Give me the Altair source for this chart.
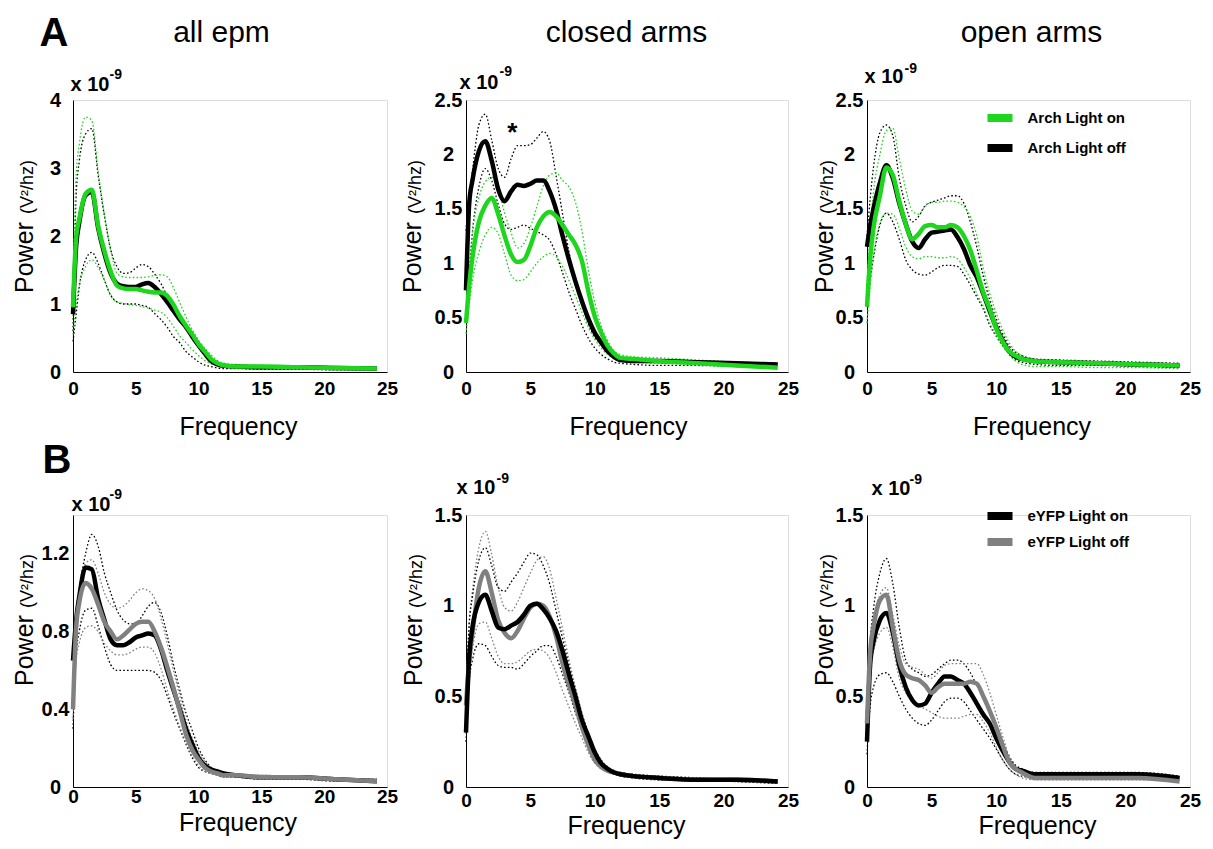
import altair as alt
import pandas as pd

# ---------------- data (x 1e-9 V^2/Hz) ----------------
FREQ = [0, 0.25, 0.5, 1, 1.5, 2, 2.5, 3, 3.5, 4, 4.5, 5, 5.5, 6, 6.5, 7, 7.5, 8,
        8.5, 9, 9.5, 10, 10.5, 11, 11.5, 12, 13, 15, 18, 21, 24.2]

# A1 - all epm (Arch)
A1_ON_MEAN = [0.95, 1.98, 2.25, 2.62, 2.68, 2.15, 1.78, 1.48, 1.27, 1.23, 1.22, 1.22, 1.2, 1.18, 1.17, 1.17, 1.12, 0.99, 0.82, 0.68, 0.55, 0.41, 0.3, 0.19, 0.13, 0.1, 0.08, 0.08, 0.07, 0.06, 0.05]
A1_ON_HI = [1.1, 2.9, 3.35, 3.75, 3.7, 2.95, 2.32, 1.8, 1.45, 1.4, 1.39, 1.39, 1.39, 1.4, 1.42, 1.43, 1.4, 1.24, 1.02, 0.81, 0.62, 0.47, 0.35, 0.25, 0.17, 0.13, 0.11, 0.1, 0.09, 0.08, 0.07]
A1_ON_LO = [0.55, 1.0, 1.28, 1.55, 1.65, 1.54, 1.35, 1.12, 1.03, 1.01, 0.99, 0.98, 0.96, 0.94, 0.91, 0.88, 0.8, 0.67, 0.53, 0.43, 0.33, 0.24, 0.17, 0.12, 0.1, 0.08, 0.06, 0.05, 0.05, 0.04, 0.04]
A1_OFF_MEAN = [0.85, 1.85, 2.2, 2.6, 2.65, 2.12, 1.74, 1.45, 1.3, 1.26, 1.25, 1.25, 1.29, 1.31, 1.25, 1.15, 1.03, 0.9, 0.77, 0.66, 0.52, 0.39, 0.27, 0.16, 0.11, 0.09, 0.08, 0.07, 0.07, 0.06, 0.05]
A1_OFF_HI = [0.6, 2.6, 3.1, 3.5, 3.58, 2.9, 2.3, 1.8, 1.55, 1.45, 1.46, 1.53, 1.58, 1.55, 1.44, 1.3, 1.12, 0.97, 0.82, 0.67, 0.52, 0.41, 0.29, 0.2, 0.15, 0.11, 0.09, 0.09, 0.08, 0.07, 0.06]
A1_OFF_LO = [0.45, 0.85, 1.25, 1.65, 1.76, 1.6, 1.35, 1.13, 1.03, 1.0, 1.0, 1.0, 0.98, 0.95, 0.86, 0.77, 0.66, 0.52, 0.43, 0.3, 0.22, 0.15, 0.1, 0.08, 0.06, 0.05, 0.05, 0.04, 0.04, 0.03, 0.03]

# A2 - closed arms (Arch)
A2_ON_MEAN = [0.45, 0.8, 1.05, 1.38, 1.53, 1.6, 1.45, 1.25, 1.08, 1.01, 1.03, 1.16, 1.33, 1.43, 1.47, 1.43, 1.35, 1.26, 1.17, 1.02, 0.74, 0.51, 0.36, 0.24, 0.17, 0.13, 0.12, 0.1, 0.08, 0.06, 0.04]
A2_ON_HI = [0.55, 0.95, 1.28, 1.6, 1.75, 1.79, 1.68, 1.46, 1.28, 1.14, 1.18, 1.33, 1.52, 1.71, 1.81, 1.83, 1.76, 1.7, 1.56, 1.3, 0.94, 0.64, 0.42, 0.29, 0.19, 0.16, 0.14, 0.13, 0.11, 0.09, 0.07]
A2_ON_LO = [0.35, 0.62, 0.84, 1.1, 1.26, 1.33, 1.27, 1.08, 0.89, 0.84, 0.85, 0.92, 1.0, 1.06, 1.09, 1.06, 0.97, 0.84, 0.7, 0.55, 0.41, 0.3, 0.22, 0.16, 0.12, 0.1, 0.09, 0.08, 0.07, 0.05, 0.04]
A2_OFF_MEAN = [0.75, 1.55, 1.76, 2.03, 2.12, 1.94, 1.68, 1.57, 1.66, 1.72, 1.71, 1.73, 1.76, 1.76, 1.66, 1.49, 1.25, 1.03, 0.83, 0.65, 0.49, 0.36, 0.27, 0.19, 0.14, 0.11, 0.1, 0.1, 0.09, 0.08, 0.07]
A2_OFF_HI = [1.3, 1.6, 1.85, 2.27, 2.37, 2.13, 1.87, 1.79, 1.96, 2.08, 2.08, 2.09, 2.15, 2.21, 2.12, 1.8, 1.45, 1.1, 0.83, 0.62, 0.44, 0.32, 0.26, 0.2, 0.15, 0.12, 0.11, 0.11, 0.1, 0.09, 0.08]
A2_OFF_LO = [0.45, 0.9, 1.28, 1.7, 1.87, 1.76, 1.54, 1.36, 1.31, 1.33, 1.35, 1.32, 1.29, 1.26, 1.21, 1.08, 0.91, 0.73, 0.58, 0.43, 0.31, 0.22, 0.16, 0.12, 0.09, 0.08, 0.07, 0.06, 0.06, 0.05, 0.04]

# A3 - open arms (Arch)
A3_ON_MEAN = [0.6, 1.05, 1.32, 1.62, 1.88, 1.81, 1.57, 1.36, 1.22, 1.27, 1.34, 1.35, 1.33, 1.33, 1.35, 1.33, 1.25, 1.12, 0.93, 0.73, 0.58, 0.4, 0.28, 0.19, 0.15, 0.12, 0.1, 0.09, 0.08, 0.07, 0.06]
A3_ON_HI = [0.8, 1.3, 1.65, 2.0, 2.22, 2.24, 1.96, 1.68, 1.48, 1.45, 1.52, 1.56, 1.56, 1.57, 1.57, 1.56, 1.52, 1.43, 1.25, 0.95, 0.72, 0.54, 0.39, 0.27, 0.19, 0.15, 0.12, 0.1, 0.09, 0.08, 0.07]
A3_ON_LO = [0.45, 0.8, 1.06, 1.37, 1.46, 1.45, 1.32, 1.15, 1.06, 1.04, 1.06, 1.06, 1.05, 1.05, 1.06, 1.04, 0.96, 0.86, 0.72, 0.6, 0.45, 0.34, 0.24, 0.16, 0.1, 0.07, 0.05, 0.05, 0.04, 0.04, 0.03]
A3_OFF_MEAN = [1.15, 1.35, 1.5, 1.74, 1.9, 1.78, 1.55, 1.36, 1.2, 1.14, 1.22, 1.28, 1.29, 1.3, 1.31, 1.24, 1.13, 0.98, 0.87, 0.72, 0.56, 0.41, 0.29, 0.19, 0.14, 0.12, 0.1, 0.09, 0.08, 0.07, 0.06]
A3_OFF_HI = [1.25, 1.6, 1.88, 2.2, 2.27, 2.17, 1.78, 1.53, 1.38, 1.43, 1.53, 1.56, 1.58, 1.6, 1.62, 1.62, 1.55, 1.38, 1.15, 0.88, 0.66, 0.49, 0.35, 0.24, 0.18, 0.15, 0.12, 0.11, 0.1, 0.09, 0.08]
A3_OFF_LO = [0.6, 0.85, 1.05, 1.35, 1.46, 1.38, 1.22, 1.03, 0.94, 0.9, 0.89, 0.92, 0.96, 0.98, 0.98, 0.97, 0.9, 0.8, 0.69, 0.58, 0.43, 0.33, 0.24, 0.17, 0.11, 0.09, 0.07, 0.06, 0.06, 0.05, 0.04]

# B1 - all epm (eYFP)
B1_ON_MEAN = [0.65, 0.86, 0.98, 1.13, 1.12, 0.97, 0.86, 0.76, 0.73, 0.73, 0.745, 0.77, 0.78, 0.79, 0.78, 0.71, 0.6, 0.5, 0.4, 0.3, 0.22, 0.15, 0.11, 0.09, 0.08, 0.07, 0.06, 0.05, 0.05, 0.04, 0.03]
B1_ON_HI = [0.7, 0.9, 1.02, 1.2, 1.3, 1.24, 1.1, 1.0, 0.91, 0.86, 0.84, 0.84, 0.88, 0.93, 0.95, 0.9, 0.78, 0.63, 0.5, 0.38, 0.29, 0.2, 0.14, 0.1, 0.08, 0.07, 0.06, 0.06, 0.05, 0.04, 0.04]
B1_ON_LO = [0.3, 0.68, 0.8, 0.91, 0.92, 0.83, 0.72, 0.63, 0.6, 0.6, 0.6, 0.6, 0.6, 0.6, 0.59, 0.55, 0.47, 0.38, 0.3, 0.22, 0.15, 0.1, 0.08, 0.07, 0.06, 0.05, 0.05, 0.04, 0.04, 0.03, 0.03]
B1_OFF_MEAN = [0.4, 0.82, 0.95, 1.05, 1.02, 0.94, 0.85, 0.8, 0.76, 0.78, 0.81, 0.84, 0.85, 0.85, 0.8, 0.72, 0.62, 0.51, 0.39, 0.27, 0.19, 0.14, 0.1, 0.08, 0.07, 0.06, 0.06, 0.05, 0.05, 0.04, 0.03]
B1_OFF_HI = [0.5, 0.88, 1.0, 1.15, 1.17, 1.1, 1.0, 0.94, 0.92, 0.93, 0.96, 1.0, 1.02, 1.01, 0.97, 0.87, 0.74, 0.6, 0.47, 0.34, 0.25, 0.18, 0.13, 0.1, 0.08, 0.07, 0.06, 0.06, 0.05, 0.04, 0.04]
B1_OFF_LO = [0.35, 0.65, 0.74, 0.82, 0.83, 0.8, 0.74, 0.7, 0.68, 0.68, 0.69, 0.71, 0.72, 0.72, 0.69, 0.61, 0.5, 0.4, 0.31, 0.23, 0.16, 0.11, 0.08, 0.07, 0.06, 0.05, 0.05, 0.04, 0.04, 0.03, 0.03]

# B2 - closed arms (eYFP)
B2_ON_MEAN = [0.3, 0.72, 0.88, 1.02, 1.06, 0.97, 0.88, 0.87, 0.89, 0.91, 0.95, 1.0, 1.01, 0.98, 0.93, 0.86, 0.75, 0.62, 0.5, 0.37, 0.28, 0.19, 0.13, 0.1, 0.08, 0.07, 0.06, 0.05, 0.04, 0.04, 0.03]
B2_ON_HI = [0.5, 0.9, 1.05, 1.25, 1.32, 1.22, 1.1, 1.08, 1.13, 1.18, 1.24, 1.29, 1.28, 1.22, 1.12, 0.97, 0.82, 0.67, 0.53, 0.4, 0.29, 0.2, 0.14, 0.11, 0.09, 0.08, 0.07, 0.06, 0.05, 0.04, 0.04]
B2_ON_LO = [0.25, 0.58, 0.7, 0.79, 0.78, 0.72, 0.67, 0.66, 0.66, 0.65, 0.68, 0.72, 0.75, 0.78, 0.78, 0.72, 0.62, 0.52, 0.41, 0.31, 0.22, 0.15, 0.11, 0.09, 0.07, 0.06, 0.05, 0.04, 0.04, 0.03, 0.02]
B2_OFF_MEAN = [0.45, 0.7, 0.85, 1.1, 1.19, 1.07, 0.92, 0.85, 0.82, 0.86, 0.93, 0.99, 1.01, 1.0, 0.94, 0.83, 0.68, 0.56, 0.45, 0.33, 0.23, 0.15, 0.11, 0.09, 0.08, 0.07, 0.06, 0.05, 0.04, 0.04, 0.03]
B2_OFF_HI = [0.5, 0.9, 1.08, 1.32, 1.41, 1.28, 1.1, 0.99, 0.97, 1.02, 1.1, 1.18, 1.25, 1.27, 1.2, 1.04, 0.87, 0.7, 0.55, 0.41, 0.3, 0.21, 0.15, 0.11, 0.09, 0.08, 0.07, 0.06, 0.05, 0.04, 0.04]
B2_OFF_LO = [0.3, 0.62, 0.76, 0.9, 0.91, 0.82, 0.72, 0.68, 0.68, 0.69, 0.72, 0.75, 0.76, 0.75, 0.71, 0.63, 0.53, 0.44, 0.35, 0.27, 0.19, 0.13, 0.1, 0.08, 0.07, 0.06, 0.05, 0.04, 0.04, 0.03, 0.02]

# B3 - open arms (eYFP)
B3_ON_MEAN = [0.25, 0.68, 0.8, 0.92, 0.96, 0.85, 0.67, 0.55, 0.48, 0.45, 0.46, 0.52, 0.57, 0.61, 0.61, 0.59, 0.57, 0.52, 0.46, 0.4, 0.35, 0.27, 0.2, 0.14, 0.1, 0.09, 0.07, 0.07, 0.07, 0.07, 0.05]
B3_ON_HI = [0.35, 0.8, 0.98, 1.18, 1.26, 1.12, 0.88, 0.7, 0.65, 0.63, 0.61, 0.62, 0.65, 0.68, 0.7, 0.7, 0.68, 0.63, 0.56, 0.5, 0.43, 0.34, 0.25, 0.17, 0.12, 0.1, 0.08, 0.08, 0.08, 0.08, 0.06]
B3_ON_LO = [0.18, 0.45, 0.55, 0.62, 0.63, 0.58, 0.5, 0.43, 0.38, 0.35, 0.34, 0.37, 0.42, 0.47, 0.49, 0.49, 0.47, 0.42, 0.37, 0.32, 0.27, 0.21, 0.15, 0.1, 0.07, 0.06, 0.05, 0.05, 0.05, 0.05, 0.04]
B3_OFF_MEAN = [0.35, 0.75, 0.88, 1.03, 1.06, 0.88, 0.7, 0.62, 0.6, 0.59, 0.56, 0.52, 0.55, 0.57, 0.57, 0.57, 0.57, 0.58, 0.57, 0.5, 0.42, 0.33, 0.23, 0.14, 0.1, 0.08, 0.05, 0.05, 0.05, 0.05, 0.03]
B3_OFF_HI = [0.4, 0.8, 0.93, 1.06, 1.1, 0.95, 0.78, 0.68, 0.66, 0.65, 0.62, 0.6, 0.63, 0.67, 0.68, 0.68, 0.68, 0.68, 0.68, 0.62, 0.52, 0.4, 0.28, 0.17, 0.11, 0.08, 0.06, 0.06, 0.06, 0.06, 0.04]
B3_OFF_LO = [0.3, 0.65, 0.75, 0.85, 0.88, 0.77, 0.6, 0.52, 0.48, 0.45, 0.43, 0.41, 0.39, 0.38, 0.38, 0.38, 0.39, 0.4, 0.4, 0.36, 0.3, 0.22, 0.15, 0.1, 0.07, 0.05, 0.04, 0.04, 0.04, 0.04, 0.03]

X_TICKS = [0, 5, 10, 15, 20, 25]

# ---------------- style ----------------
GREEN = "#1ed61e"
BLACK = "#000000"
GRAY = "#808080"
FONT = "Liberation Sans"
ROW_H = 272

ARCH_ON, ARCH_OFF = "Arch Light on", "Arch Light off"
EYFP_ON, EYFP_OFF = "eYFP Light on", "eYFP Light off"
COLORS = {ARCH_ON: GREEN, ARCH_OFF: BLACK, EYFP_ON: BLACK, EYFP_OFF: GRAY}

# legend: (legendX, legendY, clipHeight, symbolSize, symbol path, labelOffset)
PANELS = [
    dict(series=[(ARCH_OFF, A1_OFF_MEAN, A1_OFF_HI, A1_OFF_LO), (ARCH_ON, A1_ON_MEAN, A1_ON_HI, A1_ON_LO)],
         domain=[ARCH_ON, ARCH_OFF], ydom=[0, 4], yticks=[0, 1, 2, 3, 4],
         width=314, tx=165, ty=62, lp=7, x10=(-2.5, -9), sup=(36.5, -21), pw=(-40.5, 193, 114),
         title=("all epm", 148.5), letter=("A", -33.5, -54), legend=None, star=None),
    dict(series=[(ARCH_OFF, A2_OFF_MEAN, A2_OFF_HI, A2_OFF_LO), (ARCH_ON, A2_ON_MEAN, A2_ON_HI, A2_ON_LO)],
         domain=[ARCH_ON, ARCH_OFF], ydom=[0, 2.5], yticks=[0, 0.5, 1, 1.5, 2, 2.5],
         width=322, tx=162, ty=62, lp=7, x10=(-6.5, -11), sup=(33.5, -24), pw=(-45.5, 193, 114),
         title=("closed arms", 160.5), letter=None, legend=None, star=(3.6, 2.2)),
    dict(series=[(ARCH_OFF, A3_OFF_MEAN, A3_OFF_HI, A3_OFF_LO), (ARCH_ON, A3_ON_MEAN, A3_ON_HI, A3_ON_LO)],
         domain=[ARCH_ON, ARCH_OFF], ydom=[0, 2.5], yticks=[0, 0.5, 1, 1.5, 2, 2.5],
         width=323, tx=164.5, ty=62, lp=7, x10=(-2.5, -17), sup=(37.5, -27), pw=(-34.5, 193, 114),
         title=("open arms", 164.5), letter=None,
         legend=(119, 3, 30, 400, "M-1.25,0H1.25", 13.5), star=None),
    dict(series=[(EYFP_ON, B1_ON_MEAN, B1_ON_HI, B1_ON_LO), (EYFP_OFF, B1_OFF_MEAN, B1_OFF_HI, B1_OFF_LO)],
         domain=[EYFP_ON, EYFP_OFF], ydom=[0, 1.4], yticks=[0, 0.4, 0.8, 1.2],
         width=314, tx=164.5, ty=43, lp=0, x10=(-1.5, -4), sup=(36.5, -16), pw=(-40.5, 171, 93),
         title=None, letter=("B", -30.5, -42), legend=None, star=None),
    dict(series=[(EYFP_OFF, B2_OFF_MEAN, B2_OFF_HI, B2_OFF_LO), (EYFP_ON, B2_ON_MEAN, B2_ON_HI, B2_ON_LO)],
         domain=[EYFP_ON, EYFP_OFF], ydom=[0, 1.5], yticks=[0, 0.5, 1, 1.5],
         width=322, tx=160, ty=46, lp=4, x10=(-9.5, -21), sup=(30.5, -32), pw=(-44.5, 171, 93),
         title=None, letter=None, legend=None, star=None),
    dict(series=[(EYFP_ON, B3_ON_MEAN, B3_ON_HI, B3_ON_LO), (EYFP_OFF, B3_OFF_MEAN, B3_OFF_HI, B3_OFF_LO)],
         domain=[EYFP_ON, EYFP_OFF], ydom=[0, 1.5], yticks=[0, 0.5, 1, 1.5],
         width=323, tx=170, ty=46, lp=4, x10=(4.5, -20), sup=(42.5, -31), pw=(-34.5, 171, 93),
         title=None, letter=None,
         legend=(120, -12, 26, 324, "M-1.39,0H1.39", 14.5), star=None),
]


def text_layer(txt, x, y, size, weight="normal", align="left", baseline="alphabetic", angle=0):
    kw = dict(font=FONT, fontSize=size, fontWeight=weight, align=align, baseline=baseline, color="black")
    if angle:
        kw["angle"] = angle
    return alt.Chart(pd.DataFrame({"t": [txt]})).mark_text(**kw).encode(
        text="t:N", x=alt.value(x), y=alt.value(y))


def make_panel(p):
    xaxis = alt.Axis(values=X_TICKS, format="d", labelFont=FONT, labelFontSize=19, labelFontWeight="bold",
                     labelColor="black", labelPadding=p["lp"], labelFlush=False, labelOverlap=False,
                     ticks=False, tickSize=0, grid=False, domainColor="black", domainWidth=1,
                     title="Frequency", titleFont=FONT, titleFontSize=25, titleFontWeight="normal",
                     titleColor="black", titleX=p["tx"], titleY=p["ty"], titleAlign="center",
                     titleBaseline="alphabetic")
    yaxis = alt.Axis(values=p["yticks"], labelExpr="toString(datum.value)", labelFont=FONT, labelFontSize=20,
                     labelFontWeight="bold", labelColor="black", labelAlign="center", labelPadding=18,
                     labelOverlap=False, ticks=False, tickSize=0, grid=False, domainColor="black",
                     domainWidth=1, title=None)
    xenc = alt.X("f:Q", scale=alt.Scale(domain=[0, 25], nice=False, zero=False), axis=xaxis)
    yenc = alt.Y("v:Q", scale=alt.Scale(domain=p["ydom"], nice=False), axis=yaxis)
    cscale = alt.Scale(domain=p["domain"], range=[COLORS[d] for d in p["domain"]])
    if p["legend"]:
        lx, ly, ch, ssize, spath, loff = p["legend"]
        leg = alt.Legend(title=None, orient="none", legendX=lx, legendY=ly, symbolType=spath,
                         symbolSize=ssize, symbolStrokeWidth=8, labelFont=FONT, labelFontSize=15,
                         labelFontWeight="bold", labelColor="black", labelOffset=loff, rowPadding=0,
                         clipHeight=ch, padding=0)
    else:
        leg = None

    layers = []
    # confidence bounds (thin dotted), constant colour per condition
    for cond, m, hi, lo in p["series"]:
        rows = [dict(f=f, v=v, stat="hi") for f, v in zip(FREQ, hi)]
        rows += [dict(f=f, v=v, stat="lo") for f, v in zip(FREQ, lo)]
        layers.append(alt.Chart(pd.DataFrame(rows)).mark_line(
            color=COLORS[cond], strokeWidth=1.3, strokeDash=[1.6, 2.2], interpolate="monotone").encode(
            x=xenc, y=yenc, detail="stat:N"))
    # means (thick), coloured through the condition scale
    for cond, m, hi, lo in p["series"]:
        rows = [dict(f=f, v=v, cond=cond) for f, v in zip(FREQ, m)]
        layers.append(alt.Chart(pd.DataFrame(rows)).mark_line(
            strokeWidth=4.5, interpolate="monotone").encode(
            x=xenc, y=yenc, color=alt.Color("cond:N", scale=cscale, legend=leg)))
    if p["star"]:
        sx, sy = p["star"]
        layers.append(alt.Chart(pd.DataFrame({"f": [sx], "v": [sy], "t": ["*"]})).mark_text(
            font=FONT, fontSize=26, fontWeight="bold", baseline="middle", color="black").encode(
            x=xenc, y=yenc, text="t:N"))

    # annotations: exponent, y title, panel title, panel letter
    x10x, x10y = p["x10"]
    layers.append(text_layer("x 10", x10x, x10y, 20, "bold"))
    sx, sy = p["sup"]
    layers.append(text_layer("-9", sx, sy, 14, "bold"))
    px, py, uy = p["pw"]
    layers.append(text_layer("Power", px, py, 25, angle=270))
    layers.append(text_layer("(V\u00b2/hz)", px, uy, 18, angle=270))
    if p["title"]:
        t, tx = p["title"]
        layers.append(text_layer(t, tx, -58, 30, align="center"))
    if p["letter"]:
        t, lx, ly = p["letter"]
        layers.append(text_layer(t, lx, ly, 40, "bold"))

    return alt.layer(*layers).properties(width=p["width"], height=ROW_H)


chart = alt.concat(*[make_panel(p) for p in PANELS], columns=3,
                   spacing={"row": 143, "column": 79}, bounds="flush", align="each").resolve_scale(
    color="independent").properties(
    padding={"left": 12, "top": 13, "right": 5, "bottom": 5},
    background="white",
).configure_view(stroke="transparent").configure(font=FONT)

chart.save("out.html", embed_options={"renderer": "svg", "actions": False})
